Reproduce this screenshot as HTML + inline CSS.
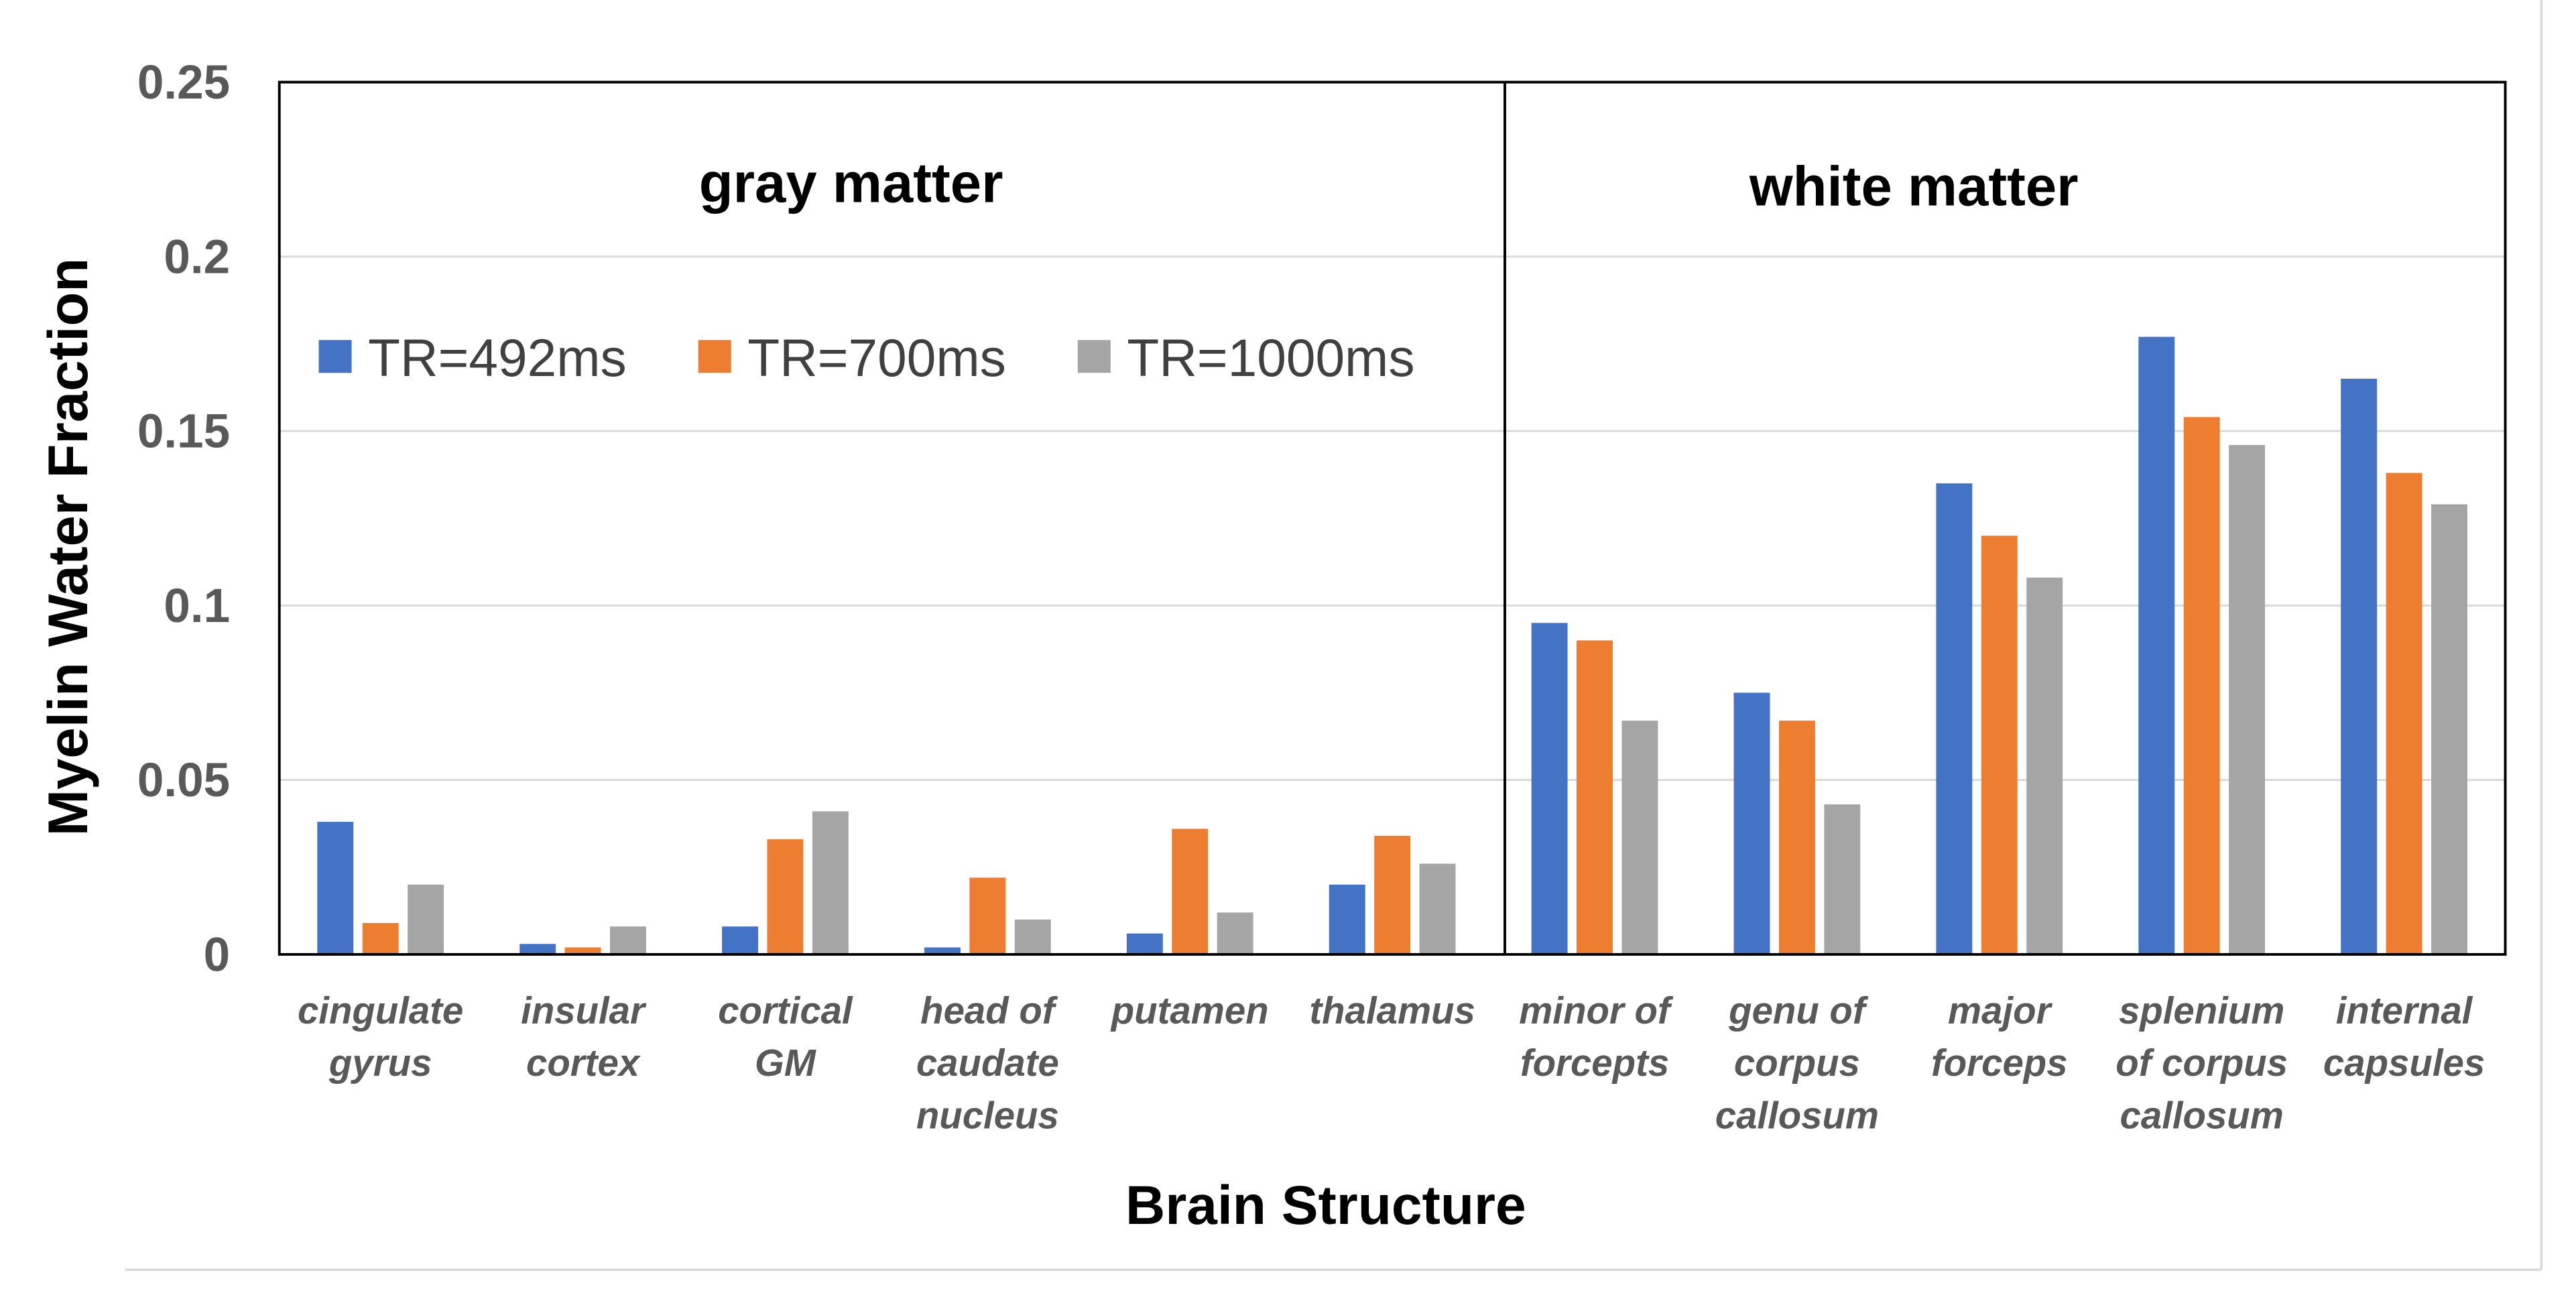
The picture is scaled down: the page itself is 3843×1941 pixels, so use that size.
<!DOCTYPE html>
<html><head><meta charset="utf-8"><style>
html,body{margin:0;padding:0;background:#fff;}
svg{display:block;font-family:"Liberation Sans",sans-serif;}
</style></head><body>
<svg id="chart" width="3843" height="1941" viewBox="0 0 1568 792" xmlns="http://www.w3.org/2000/svg">
<rect x="0" y="0" width="1568" height="792" fill="#fff"/>
<line x1="76" y1="773" x2="1547" y2="773" stroke="#d9d9d9" stroke-width="1.5"/>
<line x1="1547" y1="0" x2="1547" y2="773" stroke="#d9d9d9" stroke-width="1.5"/>
<g id="grid"></g>
<g id="bars"></g>
<rect x="170" y="50" width="1355" height="531" fill="none" stroke="#000" stroke-width="1.6"/>
<line x1="916" y1="50" x2="916" y2="581" stroke="#000" stroke-width="1.6"/>
<text x="518" y="123" font-size="34" font-weight="bold" text-anchor="middle">gray matter</text>
<text x="1165" y="125" font-size="34" font-weight="bold" text-anchor="middle">white matter</text>
<g>
<rect x="194" y="207" width="20" height="20" fill="#4472c4"/>
<text x="224" y="229" font-size="32" fill="#404040">TR=492ms</text>
<rect x="425" y="207" width="20" height="20" fill="#ed7d31"/>
<text x="455" y="229" font-size="32" fill="#404040">TR=700ms</text>
<rect x="656" y="207" width="20" height="20" fill="#a5a5a5"/>
<text x="686" y="229" font-size="32" fill="#404040">TR=1000ms</text>
</g>
<g id="yticks"></g>
<g id="xlabels"></g>
<text transform="translate(53,333) rotate(-90)" font-size="34" font-weight="bold" text-anchor="middle">Myelin Water Fraction</text>
<text x="807" y="745" font-size="33.5" font-weight="bold" text-anchor="middle">Brain Structure</text>
</svg>
<script>
const categories = [["cingulate","gyrus"],["insular","cortex"],["cortical","GM"],["head of","caudate","nucleus"],["putamen"],["thalamus"],["minor of","forcepts"],["genu of","corpus","callosum"],["major","forceps"],["splenium","of corpus","callosum"],["internal","capsules"]];
const tr492 = [0.038,0.003,0.008,0.002,0.006,0.020,0.095,0.075,0.135,0.177,0.165];
const tr700 = [0.009,0.002,0.033,0.022,0.036,0.034,0.090,0.067,0.120,0.154,0.138];
const tr1000 = [0.020,0.008,0.041,0.010,0.012,0.026,0.067,0.043,0.108,0.146,0.129];
const yTicks = [0,0.05,0.1,0.15,0.2,0.25];
const yTickLabels = ["0","0.05","0.1","0.15","0.2","0.25"];
const NS="http://www.w3.org/2000/svg";
const L=170,R=1525,T=50,B=581;
function y(v){return B-(v/0.25)*(B-T);}
const band=(R-L)/categories.length;
function xc(i){return L+band*(i+0.5);}
function mk(tag,attrs,parent){const e=document.createElementNS(NS,tag);for(const k in attrs)e.setAttribute(k,attrs[k]);parent.appendChild(e);return e;}
const grid=document.getElementById('grid'),yt=document.getElementById('yticks');
yTicks.forEach((t,i)=>{
  if(t>0&&t<0.25){const g=mk('line',{x1:L,x2:R,y1:y(t),y2:y(t),stroke:'#d9d9d9','stroke-width':1.2},grid);
  
  }
  const tx=mk('text',{x:140,y:y(t)+10,'font-size':29,'font-weight':'bold',fill:'#595959','text-anchor':'end'},yt);
  tx.textContent=yTickLabels[i];
  
  
});
const bars=document.getElementById('bars');
const series=[[tr492,'#4472c4','492'],[tr700,'#ed7d31','700'],[tr1000,'#a5a5a5','1000']];
const bw=22,gap=5.5;
categories.forEach((c,i)=>{
  series.forEach((s,j)=>{
    const x=xc(i)+(j-1)*(bw+gap)-bw/2;
    const r=mk('rect',{x:x,y:y(s[0][i]),width:bw,height:B-y(s[0][i]),fill:s[1]},bars);
    
    
  });
  const t=mk('text',{x:xc(i),'font-size':23,'font-style':'italic','font-weight':'bold',fill:'#595959','text-anchor':'middle'},document.getElementById('xlabels'));
  
  
  c.forEach((ln,k)=>{const sp=mk('tspan',{x:xc(i),y:623+k*32},t);sp.textContent=ln;});
});
</script>
</body></html>
